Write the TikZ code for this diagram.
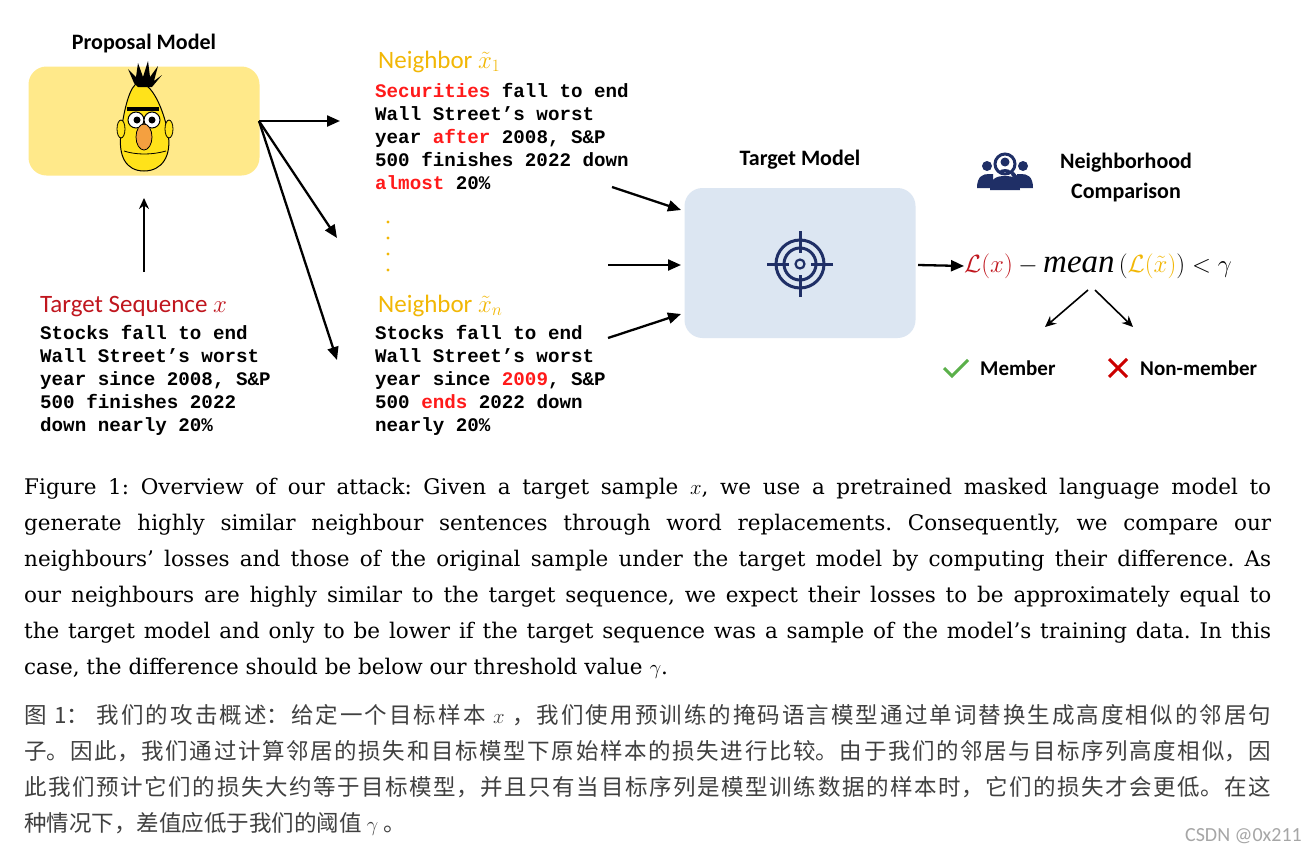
\documentclass[tikz,border=0pt]{standalone}
\usepackage{fontspec}
\setmainfont{Liberation Serif}
\setsansfont{Carlito}
\setmonofont{Liberation Mono}
\newfontfamily\capfont{DejaVu Serif}
\newfontfamily\cjk{Noto Sans CJK SC}
\usetikzlibrary{arrows.meta}
\definecolor{byel}{HTML}{FFE98A}
\definecolor{tblue}{HTML}{DCE6F2}
\definecolor{navy}{HTML}{1F2F66}
\definecolor{nyel}{HTML}{F2B705}
\definecolor{tred}{HTML}{C0161E}
\definecolor{mred}{HTML}{FF1A1A}
\definecolor{bertyel}{HTML}{FFE21A}
\definecolor{nose}{HTML}{F4A040}
\definecolor{gck}{HTML}{5BB04A}
\tikzset{
  lbl/.style={font=\sffamily\bfseries\fontsize{22}{26}\selectfont, inner sep=0},
  seqtitle/.style={font=\sffamily\fontsize{25}{28}\selectfont, anchor=base west, inner sep=0},
  mono/.style={font=\ttfamily\bfseries\fontsize{19.2}{23}\selectfont, align=left, anchor=north west, inner sep=0},
  arr/.style={-{Triangle[length=13pt,width=11pt]}, line width=2.3pt},
  sarr/.style={-{Stealth[length=11pt,width=10pt]}, line width=1.6pt},
  box/.style={rounded corners=18pt, inner sep=0, draw=none}
}
\newcommand{\rd}[1]{\textcolor{mred}{#1}}
\begin{document}
\begin{tikzpicture}[x=1pt,y=-1pt]
\useasboundingbox[fill=white] (0,0) rectangle (1308,860);
% Proposal model
\node[lbl] (plabel) at (144,44) {Proposal Model};
\node[box, fill=byel, minimum width=231pt, minimum height=109pt] (prop) at (144,121) {};
% Bert
\begin{scope}[shift={(144,121)}]
  \fill[bertyel, draw=black, line width=1pt] (-6,-38) .. controls (8,-40) and (20,-10) .. (24,12) .. controls (28,35) and (18,50) .. (0,50) .. controls (-18,50) and (-26,35) .. (-23,12) .. controls (-20,-12) and (-14,-36) .. (-6,-38) -- cycle;
  \fill[bertyel, draw=black, line width=0.8pt] (-23,8) ellipse (4pt and 9pt);
  \fill[bertyel, draw=black, line width=0.8pt] (25,8) ellipse (4pt and 9pt);
  \fill[black] (-10,-38) -- (-16,-52) -- (-8,-44) -- (-6,-58) -- (-1,-44) -- (4,-60) -- (6,-44) -- (14,-55) -- (10,-40) -- (18,-46) -- (8,-34) -- (-6,-34) -- cycle;
  \fill[black] (-17,-14) rectangle (15,-10);
  \fill[white, draw=black, line width=1pt] (-8,-1) circle (8pt);
  \fill[white, draw=black, line width=1pt] (8,-1) circle (8pt);
  \fill[black] (-7,-1) circle (3.5pt);
  \fill[black] (8,-1) circle (3.5pt);
  \fill[nose, draw=black, line width=0.8pt] (0,16) ellipse (8pt and 13pt);
  \draw[line width=0.8pt] (-20,30) .. controls (-8,34) and (8,34) .. (22,30);
\end{scope}
% Target sequence
\coordinate (tsq) at (144,272);
\draw[sarr] (tsq) -- (144,198);
\node[seqtitle] (tstitle) at (40,312) {\textcolor{tred}{Target Sequence $x$}};
\node[mono] (tstext) at (40,325) {Stocks fall to end\\Wall Street’s worst\\year since 2008, S\&P\\500 finishes 2022\\down nearly 20\%};
% Neighbors
\node[seqtitle] (n1title) at (378,68) {\textcolor{nyel}{Neighbor $\tilde{x}_1$}};
\node[mono] (n1text) at (375,83) {\rd{Securities} fall to end\\Wall Street’s worst\\year \rd{after} 2008, S\&P\\500 finishes 2022 down\\\rd{almost} 20\%};
\foreach \yy in {222,238,254,270} \fill[nyel] (388,\yy) circle (1.6pt);
\node[seqtitle] (nntitle) at (378,312) {\textcolor{nyel}{Neighbor $\tilde{x}_n$}};
\node[mono] (nntext) at (375,325) {Stocks fall to end\\Wall Street’s worst\\year since \rd{2009}, S\&P\\500 \rd{ends} 2022 down\\nearly 20\%};
\coordinate (a1) at (340,121);
\coordinate (a2) at (337,238);
\coordinate (a3) at (337,360);
\coordinate (po) at (259,121);
\draw[arr] (po) -- (a1);
\draw[arr] (po) -- (a2);
\draw[arr] (po) -- (a3);
% Target model
\node[lbl] (tlabel) at (800,160) {Target Model};
\node[box, fill=tblue, minimum width=231pt, minimum height=150pt] (tm) at (800,263) {};
\coordinate (b1) at (612,187);
\coordinate (b2) at (608,265);
\coordinate (b3) at (608,338);
\draw[arr] (b1) -- (681,210);
\draw[arr] (b2) -- (681,265);
\draw[arr] (b3) -- (681,314);
\begin{scope}[shift={(800,264)}, navy, line width=3pt]
  \draw (0,0) circle (24pt);
  \draw (0,0) circle (16pt);
  \draw[line width=2.2pt] (0,0) circle (4.5pt);
  \draw (0,-33) -- (0,-11); \draw (0,33) -- (0,11);
  \draw (-33,0) -- (-11,0); \draw (33,0) -- (11,0);
\end{scope}
% Formula
\coordinate (fo) at (918,265);
\node[anchor=west, inner sep=0, font=\fontsize{33}{36}\selectfont] (form) at (964,266) {$\textcolor{tred}{\mathcal{L}(x)} - \mathit{mean}\left(\textcolor{nyel}{\mathcal{L}(\tilde{x})}\right) < \gamma$};
\draw[arr] (fo) -- (form.west);
% Neighborhood comparison
\begin{scope}[shift={(1005,170)}, navy]
  \fill (-18,-4) circle (5pt); \fill (18,-4) circle (5pt);
  \fill (-28,18) .. controls (-28,6) and (-22,4) .. (-16,4) -- (-12,4) -- (-12,18) -- cycle;
  \fill (28,18) .. controls (28,6) and (22,4) .. (16,4) -- (12,4) -- (12,18) -- cycle;
  \fill (-15,20) .. controls (-15,8) and (-8,6) .. (0,6) .. controls (8,6) and (15,8) .. (15,20) -- cycle;
  \draw[line width=3pt, fill=white] (0,-6) circle (10pt);
  \fill (0,-8) circle (4.5pt);
  \fill (-6,2) .. controls (-5,-2) and (5,-2) .. (6,2) -- cycle;
  \draw[line width=4pt, line cap=round] (8,4) -- (16,14);
\end{scope}
\node[lbl, align=center, font=\sffamily\bfseries\fontsize{22}{30}\selectfont] (nc) at (1126,178) {Neighborhood\\Comparison};
\coordinate (fs1) at (1088,290);
\coordinate (fs2) at (1095,290);
\draw[sarr] (fs1) -- (1045,327);
\draw[sarr] (fs2) -- (1133,327);
\draw[gck, line width=3pt] (944,368) -- (952,376) -- (968,360);
\node[lbl, anchor=west, font=\sffamily\bfseries\fontsize{21}{24}\selectfont] (mem) at (980,368) {Member};
\draw[red!80!black, line width=3pt] (1109,359) -- (1127,377) (1127,359) -- (1109,377);
\node[lbl, anchor=west, font=\sffamily\bfseries\fontsize{21}{24}\selectfont] (nmem) at (1140,368) {Non-member};
% Caption
\node[anchor=north west, inner sep=0, text width=1247pt, align=justify, font=\capfont\fontsize{21.5}{36}\selectfont] (cap) at (24,478) {\frenchspacing Figure 1: Overview of our attack: Given a target sample $x$, we use a pretrained masked language model to\linebreak generate highly similar neighbour sentences through word replacements. Consequently, we compare our\linebreak neighbours’ losses and those of the original sample under the target model by computing their difference. As\linebreak our neighbours are highly similar to the target sequence, we expect their losses to be approximately equal to\linebreak the target model and only to be lower if the target sequence was a sample of the model’s training data. In this\linebreak case, the difference should be below our threshold value $\gamma$.};
\node[anchor=north west, inner sep=0, text width=1247pt, align=justify, text=black!75, font=\cjk\fontsize{22.5}{36}\selectfont] (cn) at (24,704) {\XeTeXlinebreaklocale "zh"\XeTeXlinebreakskip=0pt plus 2pt
图 1：\ 我们的攻击概述：给定一个目标样本 $x$ ，我们使用预训练的掩码语言模型通过单词替换生成高度相似的邻居句\linebreak 子。因此，我们通过计算邻居的损失和目标模型下原始样本的损失进行比较。由于我们的邻居与目标序列高度相似，因\linebreak 此我们预计它们的损失大约等于目标模型，并且只有当目标序列是模型训练数据的样本时，它们的损失才会更低。在这\linebreak 种情况下，差值应低于我们的阈值 $\gamma$ 。};
\node[anchor=east, inner sep=0, text=black!35, font=\sffamily\fontsize{20}{22}\selectfont] (wm) at (1302,836) {CSDN @0x211};
\end{tikzpicture}
\end{document}
